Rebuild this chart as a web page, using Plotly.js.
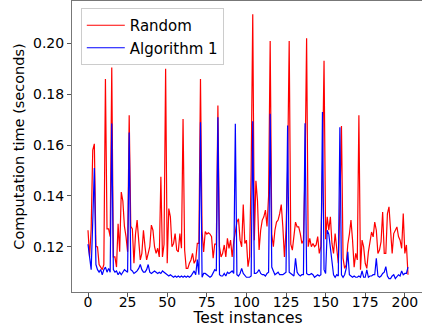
<!DOCTYPE html>
<html>
<head>
<meta charset="utf-8">
<script src="https://cdn.plot.ly/plotly-3.0.1.min.js"></script>
<style>
html,body{margin:0;padding:0;overflow:hidden;background:#fff;}
#chart{width:424px;height:327px;}
</style>
</head>
<body>
<div id="chart"></div>
<script>
const seriesNames = ["Random", "Algorithm 1"];
const xTickVals = [0, 25, 50, 75, 100, 125, 150, 175, 200];
const yTickVals = [0.12, 0.14, 0.16, 0.18, 0.20];

const randomTimes = [
0.1265,0.116,0.127,0.158,0.1605,0.120,0.120,0.113,0.112,0.111,
0.113,0.186,0.127,0.127,0.124,0.1905,0.116,0.116,0.112,0.129,
0.118,0.1415,0.138,0.128,0.124,0.118,0.1717,0.128,0.127,0.1135,
0.125,0.1305,0.1226,0.1148,0.1174,0.1265,0.120,0.1148,0.1174,0.120,
0.1285,0.1265,0.120,0.1174,0.1194,0.116,0.1475,0.116,0.121,0.190,
0.1135,0.135,0.1318,0.120,0.1213,0.1252,0.1187,0.118,0.1252,0.1194,
0.1703,0.1187,0.1115,0.1115,0.1135,0.1148,0.1174,0.1135,0.1148,0.1213,
0.1213,0.186,0.126,0.118,0.126,0.125,0.1255,0.125,0.124,0.1155,
0.121,0.121,0.1756,0.120,0.116,0.1174,0.1207,0.116,0.1233,0.1194,
0.1226,0.116,0.122,0.1252,0.1297,0.131,0.1226,0.120,0.1366,0.1213,
0.1226,0.1122,0.116,0.150,0.2115,0.1226,0.146,0.138,0.1187,0.1265,
0.1305,0.1318,0.1344,0.128,0.140,0.201,0.125,0.120,0.1265,0.1297,
0.1305,0.133,0.1366,0.1278,0.116,0.1265,0.150,0.201,0.121,0.1187,
0.1252,0.1297,0.1278,0.1278,0.1252,0.1213,0.1226,0.150,0.202,0.120,
0.1233,0.120,0.1213,0.120,0.1207,0.124,0.1174,0.120,0.150,0.1932,
0.123,0.1318,0.1265,0.1318,0.1213,0.1174,0.1252,0.120,0.1135,0.135,
0.1675,0.1155,0.1115,0.1128,0.121,0.125,0.1305,0.1226,0.112,0.1174,
0.1148,0.1717,0.111,0.1226,0.120,0.1135,0.1115,0.118,0.1226,0.1258,
0.1239,0.1297,0.1265,0.1174,0.1187,0.122,0.1337,0.1174,0.1174,0.133,
0.1357,0.1252,0.1174,0.1252,0.1265,0.1278,0.124,0.1226,0.1194,0.1331,
0.1174,0.1207,0.109
];

const algorithmTimes = [
0.121,0.116,0.111,0.130,0.151,0.113,0.111,0.110,0.111,0.109,
0.111,0.112,0.110,0.1115,0.110,0.1685,0.111,0.110,0.1105,0.109,
0.110,0.109,0.110,0.111,0.1105,0.110,0.165,0.111,0.1105,0.1095,
0.110,0.1105,0.1115,0.113,0.111,0.110,0.110,0.111,0.113,0.110,
0.1095,0.110,0.1105,0.110,0.1095,0.110,0.1095,0.1105,0.110,0.1095,
0.109,0.1085,0.109,0.1085,0.108,0.1085,0.108,0.1085,0.108,0.1085,
0.108,0.1085,0.108,0.1085,0.108,0.1085,0.1095,0.1105,0.109,0.115,
0.109,0.169,0.108,0.1095,0.1095,0.109,0.1085,0.108,0.1085,0.110,
0.111,0.1105,0.171,0.109,0.1085,0.1085,0.1095,0.1085,0.110,0.1095,
0.110,0.1105,0.1095,0.1684,0.109,0.1085,0.1095,0.1115,0.1095,0.1085,
0.108,0.108,0.108,0.1085,0.1694,0.1095,0.1095,0.110,0.111,0.1095,
0.109,0.109,0.1085,0.1095,0.110,0.1723,0.112,0.1105,0.109,0.1095,
0.110,0.109,0.109,0.109,0.1095,0.110,0.1677,0.110,0.1095,0.109,
0.1085,0.1155,0.110,0.109,0.1085,0.109,0.109,0.1686,0.1095,0.109,
0.109,0.1095,0.109,0.108,0.1085,0.109,0.1085,0.109,0.173,0.111,
0.1095,0.1265,0.125,0.120,0.1135,0.109,0.108,0.109,0.1085,0.167,
0.109,0.108,0.109,0.1115,0.118,0.109,0.1085,0.108,0.1085,0.108,
0.108,0.1085,0.108,0.1105,0.108,0.108,0.1109,0.108,0.1085,0.1085,
0.109,0.109,0.1155,0.1085,0.108,0.1085,0.1095,0.110,0.1122,0.1085,
0.1075,0.1075,0.1085,0.109,0.1075,0.1085,0.109,0.1085,0.1105,0.109,
0.1095,0.1095,0.112
];

const testIndex = randomTimes.map((_, i) => i);

const traces = [
  {x: testIndex, y: randomTimes, name: seriesNames[0], type: 'scatter', mode: 'lines',
   line: {color: '#ff0000', width: 1.2}},
  {x: testIndex, y: algorithmTimes, name: seriesNames[1], type: 'scatter', mode: 'lines',
   line: {color: '#0000ff', width: 1.2}}
];

const font = {family: 'DejaVu Sans, sans-serif', color: '#000'};

const layout = {
  width: 424, height: 327,
  margin: {l: 72, r: 0, t: 1, b: 35, pad: 0},
  paper_bgcolor: '#fff', plot_bgcolor: '#fff',
  font: Object.assign({size: 14}, font),
  showlegend: true,
  legend: {
    x: 0.025, y: 0.976, xanchor: 'left', yanchor: 'top',
    bgcolor: 'rgba(255,255,255,0.8)', bordercolor: '#cccccc', borderwidth: 1,
    font: Object.assign({size: 15}, font),
    tracegroupgap: 0, itemwidth: 38
  },
  xaxis: {
    range: [-10.1, 212.1], tickmode: 'array', tickvals: xTickVals,
    ticks: 'outside', ticklen: 4, tickwidth: 1, tickcolor: '#555',
    ticklabelstandoff: -7,
    showline: true, linecolor: '#777', linewidth: 1, mirror: true,
    showgrid: false, zeroline: false,
    tickfont: Object.assign({size: 14}, font),
    title: {text: 'Test instances', font: Object.assign({size: 15.5}, font), standoff: 3},
    automargin: false
  },
  yaxis: {
    range: [0.1022, 0.2167], tickmode: 'array', tickvals: yTickVals, tickformat: '.2f',
    ticks: 'outside', ticklen: 4, tickwidth: 1, tickcolor: '#555',
    showline: true, linecolor: '#777', linewidth: 1, mirror: true,
    showgrid: false, zeroline: false,
    tickfont: Object.assign({size: 14}, font),
    title: {text: 'Computation time (seconds)', font: Object.assign({size: 14.5}, font), standoff: 4},
    automargin: false
  }
};

Plotly.newPlot('chart', traces, layout, {staticPlot: true, displayModeBar: false});
</script>
</body>
</html>
